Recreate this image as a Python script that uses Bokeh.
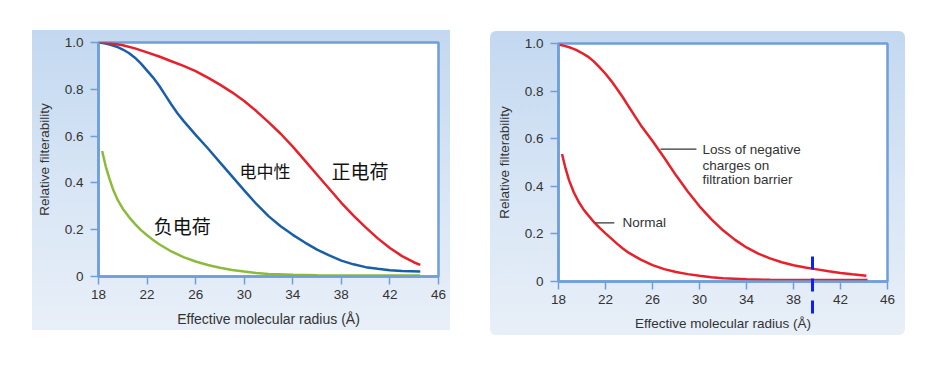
from bokeh.plotting import figure
from bokeh.layouts import row
from bokeh.models import FixedTicker
from bokeh.core.properties import value
from bokeh.embed import file_html
from bokeh.resources import INLINE

# ---------------- data ----------------
x_ticks = [18, 22, 26, 30, 34, 38, 42, 46]
y_ticks = [0, 0.2, 0.4, 0.6, 0.8, 1.0]

# Left panel
pos_x = [18, 19, 20, 21, 22, 23, 24, 25, 26, 27, 28, 29, 30, 31, 32, 33, 34, 35, 36, 37, 38, 39, 40, 41, 42, 43, 44, 44.5]
pos_y = [1.0, 0.997, 0.988, 0.975, 0.958, 0.94, 0.92, 0.9, 0.878, 0.85, 0.82, 0.787, 0.75, 0.707, 0.66, 0.61, 0.555,
         0.495, 0.435, 0.375, 0.315, 0.26, 0.21, 0.163, 0.122, 0.087, 0.06, 0.05]

neu_x = [18, 18.5, 19, 19.5, 20, 20.5, 21, 21.5, 22, 22.5, 23, 23.5, 24, 24.5, 25, 26, 27, 28, 29, 30, 31, 32, 33, 34,
         35, 36, 37, 38, 39, 40, 41, 42, 43, 44.5]
neu_y = [1.0, 0.997, 0.99, 0.982, 0.97, 0.955, 0.935, 0.91, 0.88, 0.85, 0.815, 0.775, 0.735, 0.698, 0.665, 0.605,
         0.548, 0.488, 0.428, 0.368, 0.31, 0.258, 0.215, 0.178, 0.145, 0.115, 0.09, 0.068, 0.052, 0.04, 0.033, 0.027,
         0.023, 0.021]

neg_x = [18.3, 18.6, 18.9, 19.2, 19.6, 20, 20.5, 21, 21.5, 22, 22.5, 23, 24, 25, 26, 27, 28, 29, 30, 31, 32, 34, 36,
         38, 44.5]
neg_y = [0.536, 0.47, 0.418, 0.372, 0.325, 0.29, 0.255, 0.225, 0.198, 0.176, 0.156, 0.138, 0.107, 0.083, 0.064, 0.049,
         0.037, 0.028, 0.021, 0.015, 0.011, 0.007, 0.005, 0.004, 0.004]

left_labels = ["电中性", "正电荷", "负电荷"]
left_label_x = [29.61, 37.19, 22.56]
left_label_y = [0.4525, 0.4525, 0.218]

# Right panel
loss_x = [18, 18.5, 19, 19.5, 20, 20.5, 21, 21.5, 22, 22.5, 23, 23.5, 24, 24.5, 25, 26, 27, 28, 29, 30, 31, 32, 33,
          34, 35, 36, 37, 38, 39, 40, 41, 42, 43, 44.2]
loss_y = [0.996, 0.99, 0.983, 0.973, 0.96, 0.945, 0.925, 0.9, 0.873, 0.842, 0.808, 0.772, 0.733, 0.695, 0.657, 0.59,
          0.52, 0.446, 0.378, 0.316, 0.262, 0.215, 0.176, 0.143, 0.117, 0.097, 0.081, 0.068, 0.059, 0.051, 0.043,
          0.036, 0.03, 0.024]

norm_x = [18.3, 18.6, 18.9, 19.3, 19.7, 20.1, 20.5, 21.1, 21.5, 22, 22.5, 23, 23.5, 24, 25, 26, 27, 28, 29, 30, 31,
          32, 34, 36, 38, 44.3]
norm_y = [0.536, 0.475, 0.425, 0.375, 0.336, 0.305, 0.28, 0.245, 0.225, 0.202, 0.18, 0.158, 0.138, 0.12, 0.092, 0.069,
          0.052, 0.04, 0.031, 0.024, 0.018, 0.014, 0.009, 0.007, 0.006, 0.006]

loss_text = ["Loss of negative", "charges on", "filtration barrier"]
loss_text_x = 30.26
loss_text_y = [0.556, 0.489, 0.428]
loss_leader_x = [26.68, 29.74]
loss_leader_y = [0.556, 0.556]

norm_text = "Normal"
norm_text_x = 23.45
norm_text_y = 0.246
norm_leader_x = [21.15, 22.75]
norm_leader_y = [0.246, 0.246]

cutoff_x = [39.6]

# ---------------- style ----------------
FRAME = "#6f9fd8"
TXT = "#333333"
RED = "#e8202a"
BLUE = "#1a5ea8"
GREEN = "#8cbb3c"
GRAD = "linear-gradient(to bottom, #c3d8f0 0%, #d7e5f5 50%, #e8eff8 100%)"


def make_fig(width, height, mb, margin, radius, xlabel_size, minor=None):
    p = figure(width=width, height=height, x_range=(18, 46), y_range=(0, 1.0),
               output_backend="svg", toolbar_location=None,
               min_border_left=mb[0], min_border_right=mb[1],
               min_border_top=mb[2], min_border_bottom=mb[3],
               background_fill_color="white", border_fill_color=None,
               outline_line_color=FRAME, outline_line_width=2.5,
               margin=margin,
               styles={"background": GRAD, "border-radius": radius})
    p.grid.visible = False
    for ax in (p.xaxis[0], p.yaxis[0]):
        ax.axis_line_color = FRAME
        ax.axis_line_width = 2.5
        ax.major_tick_line_color = FRAME
        ax.major_tick_line_width = 1.5
        ax.major_tick_out = 8
        ax.major_tick_in = 0
        ax.minor_tick_line_color = None
        ax.major_label_text_color = TXT
        ax.major_label_text_font = "Liberation Sans"
        ax.major_label_text_font_size = "13.5px"
        ax.axis_label_text_color = TXT
        ax.axis_label_text_font = "Liberation Sans"
        ax.axis_label_text_font_style = "normal"
    p.xaxis.major_label_standoff = 5
    if minor:
        p.xaxis.ticker = FixedTicker(ticks=x_ticks, minor_ticks=minor)
        p.xaxis.minor_tick_line_color = "#0b22f0"
        p.xaxis.minor_tick_line_width = 3
        p.xaxis.minor_tick_line_dash = "13 9"
        p.xaxis.minor_tick_in = 26
        p.xaxis.minor_tick_out = 32
        # keep tick labels where a plain 8px tick would put them
        p.xaxis.major_label_standoff = 5 - (32 - 8)
    else:
        p.xaxis.ticker = FixedTicker(ticks=x_ticks)
    p.yaxis.ticker = FixedTicker(ticks=y_ticks)
    p.yaxis.major_label_overrides = {0: "0", 1: "1.0"}
    p.xaxis.axis_label = "Effective molecular radius (Å)"
    p.yaxis.axis_label = "Relative filterability"
    p.xaxis.axis_label_text_font_size = xlabel_size
    p.yaxis.axis_label_text_font_size = "13.5px"
    p.yaxis.major_label_standoff = 7
    p.xaxis.axis_label_standoff = 9
    p.yaxis.axis_label_standoff = 10
    return p


# Left figure
p1 = make_fig(418, 300, (66, 12, 9, 53), (30, 0, 0, 32), "0px", "14px")
p1.line(neg_x, neg_y, line_color=GREEN, line_width=2.5)
p1.line(neu_x, neu_y, line_color=BLUE, line_width=2.5)
p1.line(pos_x, pos_y, line_color=RED, line_width=2.5)
p1.text(x=left_label_x, y=left_label_y, text=left_labels,
        text_font=value("Noto Sans CJK SC"),
        text_font_size=["17px", "19px", "19px"],
        text_color="#111111", text_baseline="middle", text_align="left")

# Right figure
p2 = make_fig(415, 304, (68, 18, 12, 54), (31, 0, 0, 40), "6px", "13.5px", minor=cutoff_x)
p2.line(norm_x, norm_y, line_color=RED, line_width=2.5)
p2.line(loss_x, loss_y, line_color=RED, line_width=2.5)
p2.line(loss_leader_x, loss_leader_y, line_color=TXT, line_width=1.3)
p2.line(norm_leader_x, norm_leader_y, line_color=TXT, line_width=1.3)
p2.text(x=[loss_text_x] * 3, y=loss_text_y, text=loss_text,
        text_font=value("Liberation Sans"), text_font_size="13.5px",
        text_color=TXT, text_baseline="middle", text_align="left")
p2.text(x=[norm_text_x], y=[norm_text_y], text=[norm_text],
        text_font=value("Liberation Sans"), text_font_size="13.5px",
        text_color=TXT, text_baseline="middle", text_align="left")

layout = row(p1, p2)
open("out.html", "w").write(file_html(layout, INLINE))
